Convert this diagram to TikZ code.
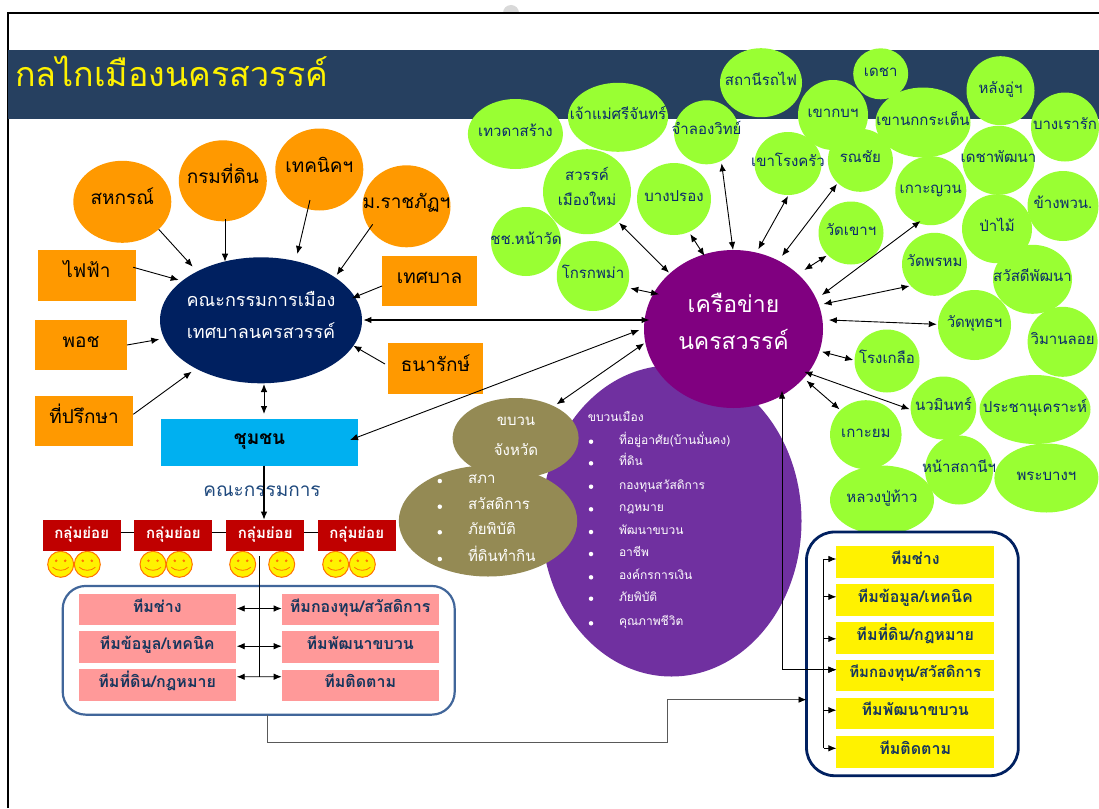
\documentclass[tikz,border=0pt]{standalone}
\usepackage{fontspec}
\setmainfont[Script=Thai]{Loma}
\usetikzlibrary{shapes.geometric,arrows.meta,calc}
\newcommand\fs[1]{\fontsize{#1}{#1}\selectfont}
\newcommand\tc[1]{\makebox[0pt][c]{#1}}
\definecolor{band}{HTML}{264060}
\definecolor{orng}{HTML}{FF9900}
\definecolor{navyc}{HTML}{002060}
\definecolor{grnc}{HTML}{99FF33}
\definecolor{grnt}{HTML}{0A2A6B}
\definecolor{sky}{HTML}{00B0F0}
\definecolor{redc}{HTML}{C00000}
\definecolor{pinkc}{HTML}{FF9999}
\definecolor{teamt}{HTML}{17365D}
\definecolor{olive}{HTML}{948A54}
\definecolor{purp}{HTML}{7030A0}
\definecolor{netc}{HTML}{800080}
\definecolor{lboxc}{HTML}{41669A}
\definecolor{capt}{HTML}{1F497D}
\tikzset{
  x=1pt,y=-1pt,
  sz/.style 2 args={minimum width=#1pt,minimum height=#2pt},
  base/.style={inner sep=0pt,outer sep=0pt,text height=.5em,text depth=0pt},
  ell/.style={base,ellipse},
  orge/.style={ell,fill=orng,text=black,font=\fs{19}},
  orgr/.style={base,rectangle,fill=orng,text=black,font=\fs{19}},
  grn/.style={ell,fill=grnc,text=grnt,font=\fs{15}},
  txt/.style={base},
  redb/.style={base,rectangle,fill=redc,text=white,font=\fs{15}\bfseries,sz={78}{31.6}},
  pink/.style={base,rectangle,fill=pinkc,text=teamt,font=\fs{16}\bfseries,sz={157}{31.6}},
  yel/.style={base,rectangle,fill=yellow,text=teamt,font=\fs{16}\bfseries,sz={157.6}{31.4}},
  face/.style={circle,inner sep=0pt,outer sep=0pt,minimum size=26pt,fill=yellow,draw=orange!90!red,line width=1pt},
  bul/.style={circle,fill=white,inner sep=0pt,minimum size=4.5pt},
  arr/.style={line width=.9pt,-{Latex[length=8pt,width=6.5pt]}},
  dbl/.style={line width=.9pt,{Latex[length=8pt,width=6.5pt]}-{Latex[length=8pt,width=6.5pt]}},
  lnk/.style={line width=1pt,black},
  thin1/.style={line width=.7pt,black},
}
\newcommand\smiley[3]{%
  \node[face] (#1) at (#2,#3) {};
  \fill[orange!90!red] ($(#1)+(-4.5,-3.5)$) circle[radius=1.4pt];
  \fill[orange!90!red] ($(#1)+(4.5,-3.5)$) circle[radius=1.4pt];
  \draw[orange!90!red,line width=.8pt] ($(#1)+(-8,3)$) .. controls ($(#1)+(-4,7)$) and ($(#1)+(4,7)$) .. ($(#1)+(8,3)$);
}
\begin{document}
\begin{tikzpicture}
\useasboundingbox (0,0) rectangle (1099,808);
\fill[white] (0,0) rectangle (1099,808);
\fill[gray!30] (511,13) circle[radius=8pt];
\fill[white] (0,13) rectangle (1099,808);
\draw[line width=1.4pt] (8,808) -- (8,13) -- (1099,13);
\node[base,rectangle,fill=band,sz={1091}{69}] (bnd) at (553.5,84.5) {};
\node[txt,anchor=west,text=yellow,font=\fs{34}] (ttl) at (15,84) {กลไกเมืองนครสวรรค์};
% orange
\node[orge,sz={98}{82}] (sah) at (122.3,201.8) {\tc{สหกรณ์}};
\node[orge,sz={88}{81}] (krom) at (222.8,180.8) {\tc{กรมที่ดิน}};
\node[orge,sz={88}{82}] (tech) at (319.3,169.5) {\tc{เทคนิคฯ}};
\node[orge,sz={88}{82}] (raj) at (406.5,206.3) {\tc{ม.ราชภัฏฯ}};
\node[orgr,sz={98}{50.7}] (fai) at (87,275.3) {\tc{ไฟฟ้า}};
\node[orgr,sz={92}{50}] (poch) at (81,345) {\tc{พอช}};
\node[orgr,sz={98}{50}] (prik) at (84,421) {\tc{ที่ปรึกษา}};
\node[orgr,sz={95}{50}] (tes) at (429.5,280.7) {\tc{เทศบาล}};
\node[orgr,sz={95}{51}] (tana) at (435.5,368.5) {\tc{ธนารักษ์}};
% centre committee
\node[ell,fill=navyc,sz={202}{126}] (net) at (261,320.3) {};
\node[txt,text=white,font=\fs{18}] (net1) at ($(net)+(0,-16)$) {คณะกรรมการเมือง};
\node[txt,text=white,font=\fs{18}] (net2) at ($(net)+(0,16)$) {เทศบาลนครสวรรค์};
\node[base,rectangle,fill=sky,text=black,font=\fs{19}\bfseries,sz={197}{46.7}] (chum) at (259.5,442.3) {\tc{ชุมชน}};
\node[txt,text=capt,font=\fs{19}] (cap) at (262,494) {คณะกรรมการ};
% subgroups
\node[redb] (r1) at (81.7,535.5) {\tc{กลุ่มย่อย}};
\node[redb] (r2) at (173.4,535.5) {\tc{กลุ่มย่อย}};
\node[redb] (r3) at (265.2,535.5) {\tc{กลุ่มย่อย}};
\node[redb] (r4) at (356.7,535.5) {\tc{กลุ่มย่อย}};
\draw[lnk] ($(r1.east)+(0,-3.5)$) -- ($(r2.west)+(0,-3.5)$);
\draw[lnk] ($(r2.east)+(0,-3.5)$) -- ($(r3.west)+(0,-3.5)$);
\draw[lnk] ($(r3.east)+(0,-3.5)$) -- ($(r4.west)+(0,-3.5)$);
\draw[arr,line width=1.2pt] ($(chum.south)+(4.5,0)$) -- ($(r3.north)+(-1.2,0)$);
\smiley{s1}{60.7}{564.3}\smiley{s2}{87.3}{564.3}
\smiley{s3}{153}{564.3}\smiley{s4}{179.3}{564.3}
\smiley{s5}{242.7}{564.3}\smiley{s6}{281.7}{564.3}
\smiley{s7}{335.7}{564.3}\smiley{s8}{362.3}{564.3}
% left team box
\node[rectangle,rounded corners=23pt,draw=lboxc,line width=2.2pt,fill=white,sz={392}{128.7},inner sep=0pt,outer sep=0pt] (lbox) at (258.7,650.3) {};
\node[pink] (pa1) at (157.2,609.5) {\tc{ทีมช่าง}};
\node[pink] (pa2) at (157.2,647.2) {\tc{ทีมข้อมูล/เทคนิค}};
\node[pink] (pa3) at (157.2,684.8) {\tc{ทีมที่ดิน/กฎหมาย}};
\node[pink] (pb1) at (360.2,609.5) {\tc{ทีมกองทุน/สวัสดิการ}};
\node[pink] (pb2) at (360.2,647.2) {\tc{ทีมพัฒนาขบวน}};
\node[pink] (pb3) at (360.2,685.3) {\tc{ทีมติดตาม}};
\coordinate (pj) at (259,676.7);
\draw[lnk] ($(r3.south)+(-6.2,4.7)$) -- (pj);
\draw[dbl] ($(pa1.east)+(1,-1)$) -- ($(pb1.west)+(0,-1)$);
\draw[dbl] ($(pa2.east)+(1,-1)$) -- ($(pb2.west)+(0,-1)$);
\draw[dbl] ($(pa3.east)+(1,-8)$) -- ($(pb3.west)+(0,-8.6)$);
% arrows into the committee
\draw[arr] ($(sah)+(36.4,27.5)$) -- ($(net)+(-68.3,-53.6)$);
\draw[arr] ($(krom)+(2.2,38.5)$) -- ($(net)+(-36,-58.6)$);
\draw[arr] ($(tech)+(-9.3,30.5)$) -- ($(net)+(36.3,-66.3)$);
\draw[arr] ($(raj)+(-33.8,18)$) -- ($(net)+(75.7,-45.3)$);
\draw[arr] ($(fai)+(46.3,-8)$) -- ($(net)+(-82.3,-40.3)$);
\draw[arr] ($(poch)+(46,0)$) -- ($(net)+(-101.7,19)$);
\draw[arr] ($(prik)+(49.3,-6.7)$) -- ($(net)+(-69.3,51.4)$);
\draw[arr] ($(tes)+(-47.5,5.3)$) -- ($(net)+(90.7,-22)$);
\draw[arr] ($(tana)+(-50.5,-4.5)$) -- ($(net)+(92.3,25.4)$);
\draw[dbl] ($(net)+(3,63.7)$) -- ($(chum)+(4.5,-28.3)$);
% purple and olive
\node[ell,fill=purp,sz={260}{311}] (meu) at (671.5,521) {};
\node[ell,fill=olive,sz={126}{80}] (jang) at (515.6,438) {};
\node[ell,fill=olive,sz={178.4}{111}] (sapa) at (488,521) {};
\node[txt,text=white,font=\fs{15}] (j1) at (516,423) {ขบวน};
\node[txt,text=white,font=\fs{15}] (j2) at (516,453) {จังหวัด};
\foreach \y/\t [count=\i] in {481/สภา,506.7/สวัสดิการ,532.3/ภัยพิบัติ,559/ที่ดินทำกิน}{
  \node[bul] (ob\i) at (439.8,\y) {};
  \node[txt,anchor=west,text=white,font=\fs{15}] (ot\i) at (468,\y) {\t};
}
\node[txt,anchor=west,text=white,font=\fs{12}] (mh) at (587.8,419) {ขบวนเมือง};
\foreach \y/\t [count=\i] in {441.7/ที่อยู่อาศัย(บ้านมั่นคง),463.3/ที่ดิน,486.7/กองทุนสวัสดิการ,509.3/กฎหมาย,532/พัฒนาขบวน,554/อาชีพ,577.3/องค์กรการเงิน,598.7/ภัยพิบัติ,623.3/คุณภาพชีวิต}{
  \node[bul] (mb\i) at (591,\y) {};
  \node[txt,anchor=west,text=white,font=\fs{12}] (mt\i) at (619,\y) {\t};
}
% network
\node[ell,fill=netc,sz={179}{158}] (nw) at (733.5,329) {};
\node[txt,text=white,font=\fs{23}] (nw1) at ($(nw)+(0,-19)$) {เครือข่าย};
\node[txt,text=white,font=\fs{23}] (nw2) at ($(nw)+(0,18)$) {นครสวรรค์};
% green
\node[grn,sz={82}{69}] (sat) at (761,82.7) {\tc{สถานีรถไฟ}};
\node[grn,sz={95}{70}] (tew) at (515.4,134) {\tc{เทวดาสร้าง}};
\node[grn,sz={100}{69}] (jao) at (618,117.3) {\tc{เจ้าแม่ศรีจันทร์}};
\node[grn,sz={65}{64}] (jum) at (706.5,132.3) {\tc{จำลองวิทย์}};
\node[grn,sz={55}{51}] (des) at (880.7,73.8) {\tc{เดชา}};
\node[grn,sz={70}{70}] (kob) at (833,115) {\tc{เขากบฯ}};
\node[grn,sz={95}{70}] (nok) at (923,122.5) {\tc{เขานกกระเต็น}};
\node[grn,sz={68}{69}] (lan) at (1000.5,90.7) {\tc{หลังอู่ฯ}};
\node[grn,sz={68}{69}] (rao) at (1065,127) {\tc{บางเรารัก}};
\node[grn,sz={72}{69}] (dep) at (998.5,160.3) {\tc{เดชาพัฒนา}};
\node[grn,sz={71}{70}] (kha) at (1063,206) {\tc{ข้างพวน.}};
\node[grn,sz={70}{69}] (pam) at (997,228.7) {\tc{ป่าไม้}};
\node[grn,sz={71}{69}] (koy) at (930.8,190.7) {\tc{เกาะญวน}};
\node[grn,sz={65}{63}] (ron) at (860.4,160.3) {\tc{รณชัย}};
\node[grn,sz={67}{63}] (kru) at (788,163.5) {\tc{เขาโรงครัว}};
\node[grn,sz={88}{85}] (swan) at (587,191.7) {};
\node[txt,text=grnt,font=\fs{15}] (sw1) at ($(swan)+(0,-13.5)$) {สวรรค์};
\node[txt,text=grnt,font=\fs{15}] (sw2) at ($(swan)+(0,11.5)$) {เมืองใหม่};
\node[grn,sz={74}{72}] (ban) at (674,199) {\tc{บางปรอง}};
\node[grn,sz={70}{69}] (cha) at (526,241.5) {\tc{ชช.หน้าวัด}};
\node[grn,sz={72.5}{70}] (krk) at (593,276) {\tc{โกรกพม่า}};
\node[grn,sz={65}{63}] (wak) at (851,233) {\tc{วัดเขาฯ}};
\node[grn,sz={65}{63}] (pro) at (934.5,264.3) {\tc{วัดพรหม}};
\node[grn,sz={79}{69}] (sws) at (1032.5,279.3) {\tc{สวัสดีพัฒนา}};
\node[grn,sz={73}{70}] (put) at (974.5,325) {\tc{วัดพุทธฯ}};
\node[grn,sz={70}{70}] (wim) at (1062.6,341.8) {\tc{วิมานลอย}};
\node[grn,sz={65}{63}] (klu) at (887,361) {\tc{โรงเกลือ}};
\node[grn,sz={65.6}{63}] (naw) at (943.4,408) {\tc{นวมินทร์}};
\node[grn,sz={111}{69}] (pra) at (1035,409.5) {\tc{ประชานุเคราะห์}};
\node[grn,sz={71.5}{69}] (yom) at (865.8,434.7) {\tc{เกาะยม}};
\node[grn,sz={68}{69}] (nas) at (959,470) {\tc{หน้าสถานีฯ}};
\node[grn,sz={104}{69}] (pba) at (1046.4,478) {\tc{พระบางฯ}};
\node[grn,sz={104}{69}] (lua) at (882,500) {\tc{หลวงปู่ท้าว}};
% network arrows
\draw[dbl,line width=1.2pt] ($(net)+(102.3,-.3)$) -- ($(nw)+(-84,-9)$);
\draw[dbl] ($(chum)+(90.5,-2.3)$) -- ($(nw)+(-94.2,1)$);
\draw[dbl] ($(nw)+(-89.3,14.3)$) -- ($(jang)+(41,-33.7)$);
\draw[dbl] ($(swan)+(32,31)$) -- ($(nw)+(-64.5,-56.3)$);
\draw[dbl] ($(ban)+(16.2,35)$) -- ($(nw)+(-29,-73)$);
\draw[dbl] ($(jum)+(15.1,31)$) -- ($(nw)+(-.5,-79)$);
\draw[dbl] ($(kru)+(0,32.5)$) -- ($(nw)+(24.8,-79.7)$);
\draw[dbl] ($(ron)+(-23.4,23.7)$) -- ($(nw)+(48.5,-73)$);
\draw[dbl] ($(wak)+(-24.3,22.7)$) -- ($(nw)+(70.8,-59)$);
\draw[dbl] ($(koy)+(-10.3,30.3)$) -- ($(nw)+(88.4,-34)$);
\draw[dbl] ($(pro)+(-25,21.7)$) -- ($(nw)+(90,-25)$);
\draw[dbl] ($(put)+(-37.7,-.7)$) -- ($(nw)+(95.3,-9)$);
\draw[dbl] ($(klu)+(-33.8,-1)$) -- ($(nw)+(88.4,22.7)$);
\draw[dbl] ($(krk)+(37.3,12.3)$) -- ($(nw)+(-74.5,-34.7)$);
\draw[dbl] ($(naw)+(-33.7,1.3)$) -- ($(nw)+(70.7,42.7)$);
\draw[dbl] ($(yom)+(-26.3,-25.4)$) -- ($(nw)+(73,51.7)$);
% right team box
\node[rectangle,rounded corners=28pt,draw=navyc,line width=2.8pt,fill=white,sz={211.8}{243.7},inner sep=0pt,outer sep=0pt] (rbox) at (912.4,653.85) {};
\node[yel] (y1) at (915.2,562) {\tc{ทีมช่าง}};
\node[yel] (y2) at (915.2,599.8) {\tc{ทีมข้อมูล/เทคนิค}};
\node[yel] (y3) at (915.2,637.8) {\tc{ทีมที่ดิน/กฎหมาย}};
\node[yel,font=\fs{15}\bfseries] (y4) at (915.2,675.3) {\tc{ทีมกองทุน/สวัสดิการ}};
\node[yel] (y5) at (915.2,713.2) {\tc{ทีมพัฒนาขบวน}};
\node[yel] (y6) at (915.2,751.8) {\tc{ทีมติดตาม}};
\coordinate (e1) at ($(y1.west)+(0,-3)$);
\coordinate (e2) at ($(y2.west)+(0,-3)$);
\coordinate (e3) at ($(y3.west)+(0,1)$);
\coordinate (e4) at ($(y4.west)+(0,-5.6)$);
\coordinate (e5) at ($(y5.west)+(0,-3)$);
\coordinate (e6) at ($(y6.west)+(0,-3.5)$);
\coordinate (trk) at (823.7,559);
\draw[lnk] (e1 -| trk) -- (e6 -| trk);
\draw[arr] (e1 -| trk) -- (e1);
\draw[arr] (e2 -| trk) -- (e2);
\draw[arr] (e3 -| trk) -- (e3);
\draw[arr] (e4 -| trk) -- (e4);
\draw[arr] (e5 -| trk) -- (e5);
\draw[arr] (e6 -| trk) -- (e6);
\draw[thin1,{Latex[length=8pt,width=6.5pt]}-{Latex[length=8pt,width=6.5pt]}] ($(nw)+(48.5,61.7)$) |- (e4);
\coordinate (bend) at (667.5,742.3);
\draw[gray!70!black,line width=.9pt] ($(lbox.south)+(8.6,0)$) |- (bend);
\draw[gray!70!black,line width=.9pt,-{Latex[length=8pt,width=6.5pt,black]}] (bend) |- ($(rbox.west)+(0,45.8)$);
\end{tikzpicture}
\end{document}
